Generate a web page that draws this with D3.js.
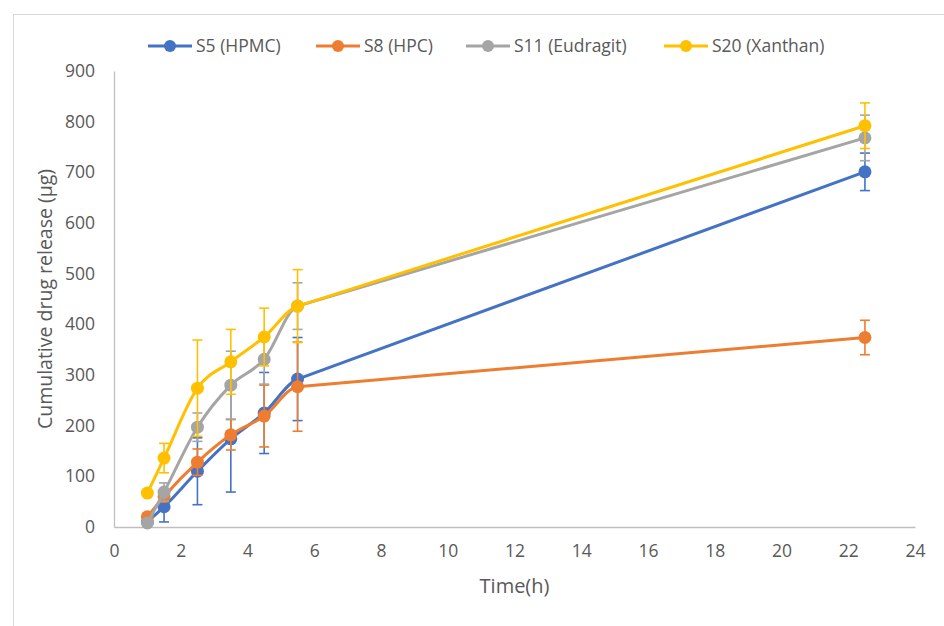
<!DOCTYPE html>
<html><head><meta charset="utf-8">
<script src="https://cdn.jsdelivr.net/npm/d3@7"></script>
<style>body{margin:0;background:#fff;} svg{display:block;} text{font-family:"Open Sans",sans-serif;fill:#595959;}</style>
</head><body>
<svg id="c" width="944" height="626"></svg>
<script>
const times = [1, 1.5, 2.5, 3.5, 4.5, 5.5, 22.5];
const seriesNames = ["S5 (HPMC)", "S8 (HPC)", "S11 (Eudragit)", "S20 (Xanthan)"];
const seriesColors = ["#4472C4", "#ED7D31", "#A5A5A5", "#FFC000"];
const s5 = [10, 40, 110, 174, 225, 292, 701];
const s5err = [5, 30, 66, 105, 80, 82, 37];
const s8 = [20, 60, 128, 182, 219, 277, 374];
const s8err = [5, 10, 26, 30, 61, 88, 34];
const s11 = [8, 69, 197, 280, 331, 436, 768];
const s11err = [3, 18, 28, 67, 49, 46, 45];
const s20 = [67, 136, 274, 326, 375, 436, 792];
const s20err = [3, 29, 95, 64, 57, 72, 45];
const xTicks = [0,2,4,6,8,10,12,14,16,18,20,22,24];
const yTicks = [0,100,200,300,400,500,600,700,800,900];

const values = [s5, s8, s11, s20];
const errs = [s5err, s8err, s11err, s20err];

const svg = d3.select("#c");
svg.append("rect").attr("x",13.5).attr("y",14.5).attr("width",960).attr("height",640)
  .attr("fill","none").attr("stroke","#d9d9d9").attr("stroke-width",1);

const L=114, R=915, T=71, B=527;
const x = d3.scaleLinear().domain([0,24]).range([L,R]);
const y = d3.scaleLinear().domain([0,900]).range([B,T]);

const gx = svg.append("g").attr("transform",`translate(0,${B})`)
  .call(d3.axisBottom(x).tickValues(xTicks).tickSize(0).tickPadding(18));
const gy = svg.append("g").attr("transform",`translate(${L},0)`)
  .call(d3.axisLeft(y).tickValues(yTicks).tickSize(0).tickPadding(19));
[gx,gy].forEach(g=>{
  g.select(".domain").attr("stroke","#bfbfbf").attr("stroke-width",1.3);
  g.selectAll("text").style("font-size","17.5px").attr("fill","#595959").style("font-family","'Open Sans', sans-serif");
});

svg.append("text").attr("x",(L+R)/2).attr("y",593).attr("text-anchor","middle")
  .style("font-size","20px").text("Time(h)");
svg.append("text").attr("transform",`translate(52,${(T+B)/2}) rotate(-90)`).attr("text-anchor","middle")
  .style("font-size","19.5px").text("Cumulative drug release (µg)");

// smooth path (monotone tangents; final long segment kept straight, joined smoothly)
function smoothPath(pts){
  const P = pts.map(d=>[x(d[0]), y(d[1])]);
  const n = P.length;
  const h = [], m = [];
  for(let k=0;k<n-1;k++){ h[k]=P[k+1][0]-P[k][0]; m[k]=(P[k+1][1]-P[k][1])/h[k]; }
  const t = new Array(n);
  t[0] = m[0];
  for(let i=1;i<n-2;i++){
    const s0=m[i-1], s1=m[i], p=(s0*h[i]+s1*h[i-1])/(h[i-1]+h[i]);
    t[i] = (Math.sign(s0)+Math.sign(s1))*Math.min(Math.abs(s0),Math.abs(s1),0.5*Math.abs(p)) || 0;
  }
  t[n-2] = m[n-2]; t[n-1] = m[n-2];
  let s = `M${P[0][0]},${P[0][1]}`;
  for(let k=0;k<n-1;k++){
    const dx=h[k]/3;
    s += `C${P[k][0]+dx},${P[k][1]+t[k]*dx} ${P[k+1][0]-dx},${P[k+1][1]-t[k+1]*dx} ${P[k+1][0]},${P[k+1][1]}`;
  }
  return s;
}

values.forEach((vals,i)=>{
  const col = seriesColors[i];
  const g = svg.append("g");
  const pts = times.map((t,j)=>[t, vals[j], errs[i][j]]);
  const eb = g.selectAll("g.eb").data(pts).enter().append("g");
  eb.append("line").attr("x1",d=>x(d[0])).attr("x2",d=>x(d[0]))
    .attr("y1",d=>y(d[1]-d[2])).attr("y2",d=>y(d[1]+d[2])).attr("stroke",col).attr("stroke-width",1.6);
  [-1,1].forEach(s=>{
    eb.append("line").attr("x1",d=>x(d[0])-5).attr("x2",d=>x(d[0])+5)
      .attr("y1",d=>y(d[1]+s*d[2])).attr("y2",d=>y(d[1]+s*d[2])).attr("stroke",col).attr("stroke-width",1.6);
  });
  g.append("path").attr("d",smoothPath(pts)).attr("fill","none").attr("stroke",col)
    .attr("stroke-width",3).attr("stroke-linejoin","round");
  g.selectAll("circle").data(pts).enter().append("circle")
    .attr("cx",d=>x(d[0])).attr("cy",d=>y(d[1])).attr("r",6.5).attr("fill",col);
});

const legX = [148, 316, 466, 664];
seriesNames.forEach((n,i)=>{
  const g = svg.append("g").attr("transform",`translate(${legX[i]},46)`);
  g.append("line").attr("x1",0).attr("x2",44).attr("stroke",seriesColors[i]).attr("stroke-width",3);
  g.append("circle").attr("cx",22).attr("r",6).attr("fill",seriesColors[i]);
  g.append("text").attr("x",48).attr("y",6).style("font-size","17.5px").text(n);
});
</script>
</body></html>
